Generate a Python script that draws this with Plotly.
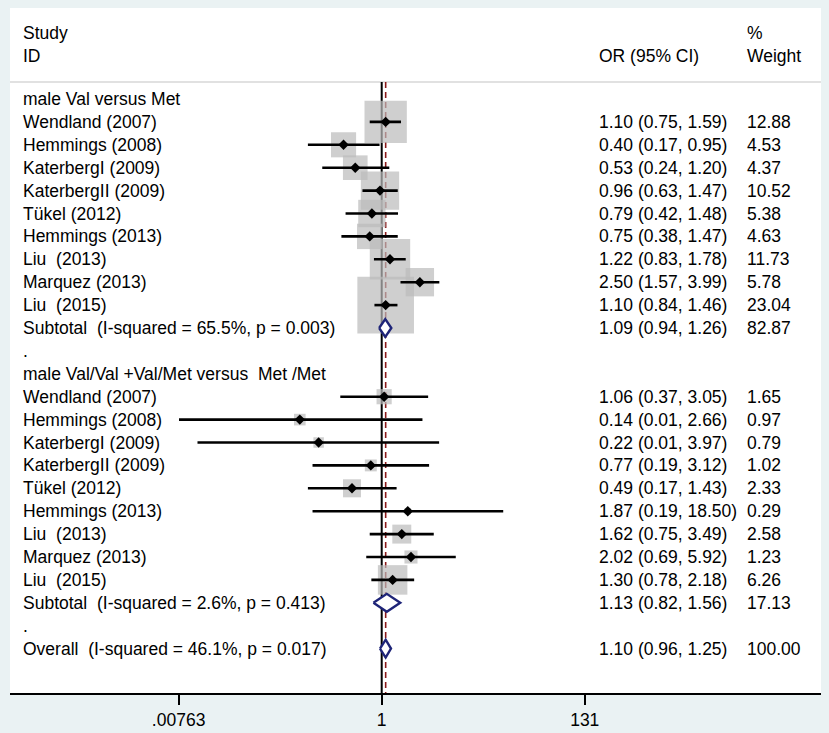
import numpy as np
import plotly.graph_objects as go

# study labels
group_titles = ["male Val versus Met", "male Val/Val +Val/Met versus\u00a0 Met /Met"]
studies = ["Wendland (2007)", "Hemmings (2008)", "KaterbergI (2009)", "KaterbergII (2009)",
           "Tükel (2012)", "Hemmings (2013)", "Liu\u00a0 (2013)", "Marquez (2013)", "Liu\u00a0 (2015)"]

# group 1: male Val versus Met
or_1 = [1.10, 0.40, 0.53, 0.96, 0.79, 0.75, 1.22, 2.50, 1.10]
lo_1 = [0.75, 0.17, 0.24, 0.63, 0.42, 0.38, 0.83, 1.57, 0.84]
hi_1 = [1.59, 0.95, 1.20, 1.47, 1.48, 1.47, 1.78, 3.99, 1.46]
wt_1 = [12.88, 4.53, 4.37, 10.52, 5.38, 4.63, 11.73, 5.78, 23.04]

# group 2: male Val/Val + Val/Met versus Met/Met
or_2 = [1.06, 0.14, 0.22, 0.77, 0.49, 1.87, 1.62, 2.02, 1.30]
lo_2 = [0.37, 0.0077, 0.012, 0.19, 0.17, 0.19, 0.75, 0.69, 0.78]
hi_2 = [3.05, 2.66, 3.97, 3.12, 1.43, 18.50, 3.49, 5.92, 2.18]
wt_2 = [1.65, 0.97, 0.79, 1.02, 2.33, 0.29, 2.58, 1.23, 6.26]

# subtotals and overall
sub_or = [1.09, 1.13]
sub_lo = [0.94, 0.82]
sub_hi = [1.26, 1.56]
sub_wt = [82.87, 17.13]
sub_i2 = ["65.5%", "2.6%"]
sub_p = ["0.003", "0.413"]
overall = dict(est=1.10, lo=0.96, hi=1.25, wt=100.00, i2="46.1%", p="0.017")

tick_vals = [0.00763, 1, 131]
tick_text = [".00763", "1", "131"]

FONT = "Liberation Sans, Arial, sans-serif"
FS = 17.5
NAVY = "#1E2478"
W, H = 829, 733
L, R, T, B = 10, 8, 8, 40

# build row layout
rows_study = []
est_all, lo_all, hi_all, wt_all = [], [], [], []
text_rows = []  # (row, left label, or text, weight text)
diamonds = []   # (row, lo, est, hi)
row = 0
groups = [(or_1, lo_1, hi_1, wt_1), (or_2, lo_2, hi_2, wt_2)]
for g, (o, lo, hi, wt) in enumerate(groups):
    text_rows.append((row, group_titles[g], "", ""))
    row += 1
    for i in range(len(studies)):
        text_rows.append((row, studies[i], f"{o[i]:.2f} ({lo[i]:.2f}, {hi[i]:.2f})", f"{wt[i]:.2f}"))
        rows_study.append(row)
        est_all.append(o[i]); lo_all.append(lo[i]); hi_all.append(hi[i]); wt_all.append(wt[i])
        row += 1
    text_rows.append((row, f"Subtotal\u00a0 (I-squared = {sub_i2[g]}, p = {sub_p[g]})",
                      f"{sub_or[g]:.2f} ({sub_lo[g]:.2f}, {sub_hi[g]:.2f})", f"{sub_wt[g]:.2f}"))
    diamonds.append((row, sub_lo[g], sub_or[g], sub_hi[g]))
    row += 1
    text_rows.append((row, ".", "", ""))
    row += 1
text_rows.append((row, f"Overall\u00a0 (I-squared = {overall['i2']}, p = {overall['p']})",
                  f"{overall['est']:.2f} ({overall['lo']:.2f}, {overall['hi']:.2f})", f"{overall['wt']:.2f}"))
diamonds.append((row, overall["lo"], overall["est"], overall["hi"]))

# pixel geometry of the reference
row0_px, row_px = 99.0, 22.9
y_top = (T - row0_px) / row_px
y_bot = (H - B - row0_px) / row_px
px_per_dec = 95.9
x1_px = 381.7
x_lo = (L - x1_px) / px_per_dec
x_hi = (W - R - x1_px) / px_per_dec
plot_w = W - L - R

def paper_x(px):
    return (px - L) / plot_w

fig = go.Figure()

# weight boxes
fig.add_trace(go.Scatter(
    x=est_all, y=rows_study, mode="markers", hoverinfo="skip",
    marker=dict(symbol="square", size=[11.8 * np.sqrt(w) for w in wt_all],
                color="#BBBBBB", line=dict(width=0)),
))

# confidence intervals
cx, cy = [], []
for r, lo, hi in zip(rows_study, lo_all, hi_all):
    cx += [lo, hi, None]
    cy += [r, r, None]
fig.add_trace(go.Scatter(x=cx, y=cy, mode="lines", line=dict(color="black", width=2.6),
                         hoverinfo="skip"))

# point estimates
fig.add_trace(go.Scatter(x=est_all, y=rows_study, mode="markers", hoverinfo="skip",
                         marker=dict(symbol="diamond", size=8, color="black")))

# pooled diamonds
h = 0.39
for r, lo, est, hi in diamonds:
    fig.add_trace(go.Scatter(
        x=[lo, est, hi, est, lo], y=[r, r - h, r, r + h, r],
        mode="lines", fill="toself", fillcolor="white",
        line=dict(color=NAVY, width=2.4), hoverinfo="skip",
    ))

# reference lines (under the boxes)
sep_row = (82 - row0_px) / row_px
fig.add_shape(type="line", xref="x", yref="y", x0=1, x1=1, y0=sep_row, y1=y_bot,
              line=dict(color="black", width=2), layer="below")
fig.add_shape(type="line", xref="x", yref="y", x0=overall["est"], x1=overall["est"],
              y0=sep_row, y1=y_bot, line=dict(color="#8B1A1A", width=1.6, dash="6px,4px"),
              layer="below")
fig.add_shape(type="line", xref="paper", yref="y", x0=0, x1=1, y0=sep_row, y1=sep_row,
              line=dict(color="#C4C4C4", width=1.2), layer="below")

# header
hdr1 = (33 - row0_px) / row_px
hdr2 = (56 - row0_px) / row_px
headers = [(21, hdr1, "Study"), (21, hdr2, "ID"), (597, hdr2, "OR (95% CI)"),
           (745, hdr1, "%"), (745, hdr2, "Weight")]
ann = []
for px, yy, t in headers:
    ann.append(dict(x=paper_x(px), y=yy, xref="paper", yref="y", text=t, showarrow=False,
                    xanchor="left", yanchor="middle", font=dict(family=FONT, size=FS, color="black")))

for r, lab, ort, wtt in text_rows:
    for px, t in [(21, lab), (597, ort), (745, wtt)]:
        if t:
            ann.append(dict(x=paper_x(px), y=r, xref="paper", yref="y", text=t, showarrow=False,
                            xanchor="left", yanchor="middle",
                            font=dict(family=FONT, size=FS, color="black")))

fig.update_layout(
    width=W, height=H, autosize=False,
    margin=dict(l=L, r=R, t=T, b=B),
    paper_bgcolor="#EAF2F3", plot_bgcolor="white",
    showlegend=False, annotations=ann,
    font=dict(family=FONT, size=FS, color="black"),
)
fig.update_xaxes(type="log", range=[x_lo, x_hi], tickvals=tick_vals, ticktext=tick_text,
                 ticks="outside", ticklen=10, tickwidth=2, tickcolor="black", ticklabelstandoff=0,
                 showline=True, linecolor="black", linewidth=2, showgrid=False, zeroline=False,
                 automargin=False, tickfont=dict(family=FONT, size=FS, color="black"))
fig.update_yaxes(range=[y_bot, y_top], visible=False, showgrid=False, zeroline=False,
                 automargin=False)

# drop the default page margin so the figure sits at the window's corner
fig.write_html("out.html", config={"displayModeBar": False},
               post_script="document.body.style.margin='0px';")
